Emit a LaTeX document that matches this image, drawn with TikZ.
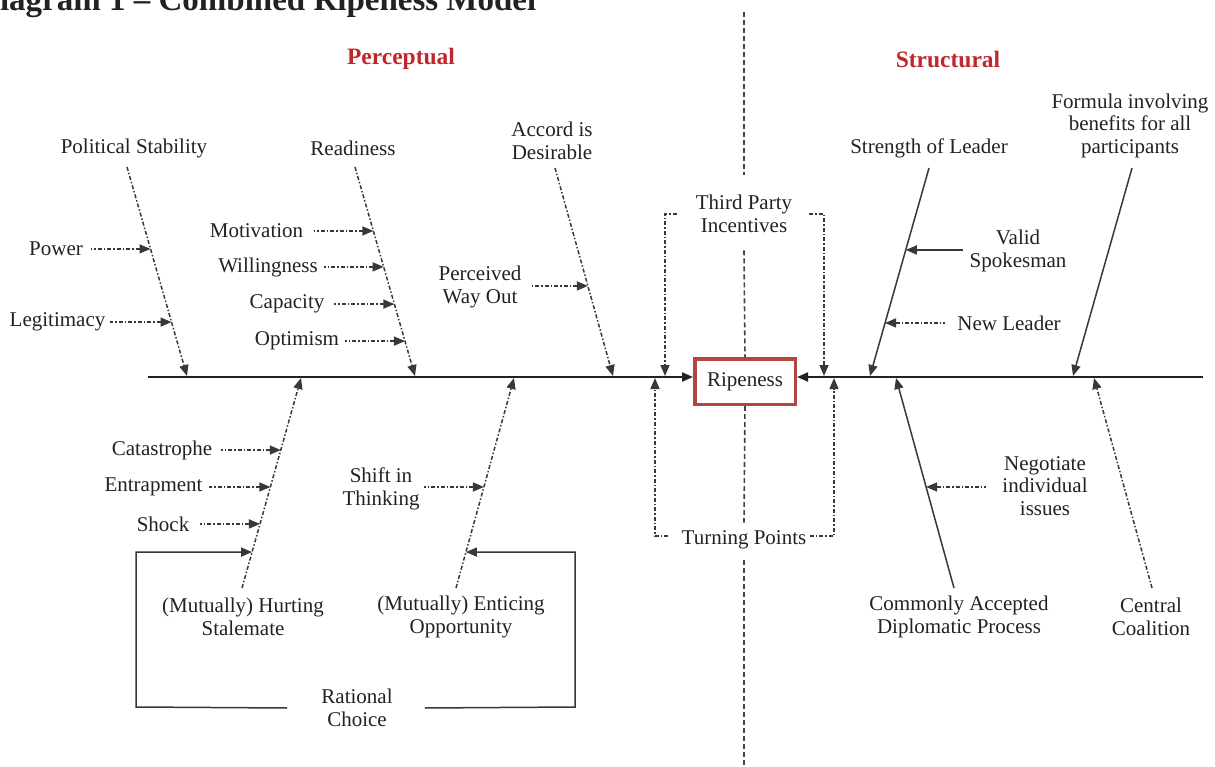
\documentclass[tikz,border=0pt]{standalone}
\usepackage{fontspec}
\setmainfont{Liberation Serif}
\usetikzlibrary{arrows.meta,calc}
\definecolor{hdred}{HTML}{C0272D}
\definecolor{boxred}{HTML}{B5453F}
\definecolor{ink}{HTML}{222222}
\begin{document}
\begin{tikzpicture}[x=1pt,y=-1pt,
  txt/.style={font=\fontsize{21}{22.5}\selectfont, align=center, text=ink, inner sep=1pt},
  hdr/.style={font=\bfseries\fontsize{23.5}{26}\selectfont, text=hdred, inner sep=1pt},
  bone/.style={draw=ink!90, line width=1.5pt},
  dd/.style={dash pattern=on 4pt off 2pt on 1.5pt off 2pt},
  cdash/.style={draw=ink!85, line width=1.6pt, dash pattern=on 5pt off 3pt},
  tipend/.style={-{Triangle[length=11pt,width=9pt]}},
  tipstart/.style={{Triangle[length=11pt,width=9pt]}-},
  spine/.style={draw=ink, line width=2pt},
]
\useasboundingbox (0,0) rectangle (1215,767);
\fill[white] (0,0) rectangle (1215,767);

% title and headers
\node[anchor=base west, font=\bfseries\fontsize{33}{35}\selectfont, text=ink, inner sep=0pt] (title) at (-24,11) {Diagram 1 \textendash{} Combined Ripeness Model};
\node[hdr] (perc) at (401,59) {Perceptual};
\node[hdr] (stru) at (948,59) {Structural};

% central box and spine
\node[txt, draw=boxred, line width=3.5pt, fill=white, minimum width=100.5pt, minimum height=45.5pt] (rip) at (745,381.5) {Ripeness};
\coordinate (spL) at (148,377);
\coordinate (spR) at (1203,377);
\draw[spine, tipend] (spL) -- (spL -| rip.west);
\draw[spine, tipend] (spR) -- (spR -| rip.east);

% central labels and vertical divider
\node[txt] (tpi) at (744,214) {Third Party\\Incentives};
\node[txt] (tp) at (744,540) {Turning Points};
\coordinate (cT) at (744,12);
\coordinate (cB) at (744,767);
\draw[cdash] (cT) -- ([yshift=19.5pt]tpi.north);
\draw[cdash] ([yshift=-16.5pt]tpi.south) -- (rip.north);
\draw[cdash] (rip.south) -- ([yshift=7pt]tp.north);
\draw[cdash] ([yshift=-10pt]tp.south) -- (cB);

% third party brackets
\draw[bone, dd, tipend] ([xshift=-18pt]tpi.west) -- (665,214) -- (665,376);
\draw[bone, dd, tipend] ([xshift=16pt]tpi.east) -- (824,214) -- (824,376);
% turning points brackets
\draw[bone, dd, tipend] ([xshift=-12pt,yshift=4pt]tp.west) -- (655,536) -- (655,378);
\draw[bone, dd, tipend] ([xshift=2pt,yshift=4pt]tp.east) -- (834,536) -- (834,378);

% ---------- Perceptual, upper bones ----------
\node[txt] (ps) at (134,148) {Political Stability};
\node[txt] (rd) at (353,148) {Readiness};
\node[txt] (acc) at (552,141) {Accord is\\Desirable};
\coordinate (psT) at (127,167); \coordinate (psB) at (187,376);
\coordinate (rdT) at (355,167); \coordinate (rdB) at (415,376);
\coordinate (acT) at (555,168); \coordinate (acB) at (613,376);
\draw[bone, dd, tipend] (psT) -- (psB);
\draw[bone, dd, tipend] (rdT) -- (rdB);
\draw[bone, dd, tipend] (acT) -- (acB);

\node[txt] (pow) at (56,249) {Power};
\node[txt] (leg) at (57.5,322) {Legitimacy};
\coordinate (powP) at ($(psT)!0.392!(psB)$);
\coordinate (legP) at ($(psT)!0.742!(psB)$);
\draw[bone, dd, tipstart] (powP) -- ++(-60,0);
\draw[bone, dd, tipstart] (legP) -- ++(-62,0);

\node[txt] (mot) at (256.5,231) {Motivation};
\node[txt] (wil) at (268,267) {Willingness};
\node[txt] (cap) at (287,304) {Capacity};
\node[txt] (opt) at (297,341) {Optimism};
\coordinate (motP) at ($(rdT)!0.306!(rdB)$);
\coordinate (wilP) at ($(rdT)!0.478!(rdB)$);
\coordinate (capP) at ($(rdT)!0.656!(rdB)$);
\coordinate (optP) at ($(rdT)!0.833!(rdB)$);
\draw[bone, dd, tipstart] (motP) -- ++(-59,0);
\draw[bone, dd, tipstart] (wilP) -- ++(-60,0);
\draw[bone, dd, tipstart] (capP) -- ++(-60,0);
\draw[bone, dd, tipstart] (optP) -- ++(-60,0);

\node[txt] (pwo) at (480,287) {Perceived\\Way Out};
\coordinate (pwoP) at ($(acT)!0.567!(acB)$);
\draw[bone, dd, tipstart] (pwoP) -- ++(-58,0);

% ---------- Perceptual, lower bones ----------
\node[txt] (hs) at (243,617) {(Mutually) Hurting\\Stalemate};
\node[txt] (eo) at (461,617) {(Mutually) Enticing\\Opportunity};
\coordinate (hsS) at (242,588); \coordinate (hsE) at (301,378);
\coordinate (eoS) at (456,588); \coordinate (eoE) at (514,378);
\draw[bone, dd, tipend] (hsS) -- (hsE);
\draw[bone, dd, tipend] (eoS) -- (eoE);

\node[txt] (cat) at (162,450) {Catastrophe};
\node[txt] (ent) at (153.5,487) {Entrapment};
\node[txt] (sho) at (163,524) {Shock};
\coordinate (catP) at ($(hsS)!0.657!(hsE)$);
\coordinate (entP) at ($(hsS)!0.481!(hsE)$);
\coordinate (shoP) at ($(hsS)!0.305!(hsE)$);
\coordinate (hsR) at ($(hsS)!0.171!(hsE)$);
\draw[bone, dd, tipstart] (catP) -- ++(-60,0);
\draw[bone, dd, tipstart] (entP) -- ++(-61,0);
\draw[bone, dd, tipstart] (shoP) -- ++(-60,0);

\node[txt] (sit) at (381,489) {Shift in\\Thinking};
\coordinate (sitP) at ($(eoS)!0.481!(eoE)$);
\coordinate (eoR) at ($(eoS)!0.171!(eoE)$);
\draw[bone, dd, tipstart] (sitP) -- ++(-60,0);

\node[txt] (rc) at (357,708) {Rational\\Choice};
\draw[bone, tipend] ([xshift=-33pt]rc.west) -- (136,707) -- (136,552) -- (hsR);
\draw[bone, tipend] ([xshift=31pt]rc.east) -- (575,707) -- (575,552) -- (eoR);

% ---------- Structural ----------
\node[txt] (sl) at (929,148) {Strength of Leader};
\node[txt] (fi) at (1130,125.5) {Formula involving\\benefits for all\\participants};
\coordinate (slT) at (929,168); \coordinate (slB) at (870,376);
\coordinate (fiT) at (1132,168); \coordinate (fiB) at (1073,376);
\draw[bone, tipend] (slT) -- (slB);
\draw[bone, tipend] (fiT) -- (fiB);

\node[txt] (vs) at (1018,251) {Valid\\Spokesman};
\node[txt] (nl) at (1009,323) {New Leader};
\coordinate (vsP) at ($(slT)!0.394!(slB)$);
\coordinate (nlP) at ($(slT)!0.745!(slB)$);
\draw[bone, tipstart] (vsP) -- ++(57,0);
\draw[bone, dd, tipstart] (nlP) -- ++(60,0);

\node[txt] (cad) at (959,617) {Commonly Accepted\\Diplomatic Process};
\node[txt] (cc) at (1151,617) {Central\\Coalition};
\coordinate (cadS) at (954,588); \coordinate (cadE) at (896,378);
\coordinate (ccS) at (1152,588); \coordinate (ccE) at (1094,378);
\draw[bone, tipend] (cadS) -- (cadE);
\draw[bone, dd, tipend] (ccS) -- (ccE);

\node[txt] (nii) at (1045,486) {Negotiate\\individual\\issues};
\coordinate (niiP) at ($(cadS)!0.481!(cadE)$);
\draw[bone, dd, tipstart] (niiP) -- ++(60,0);
\end{tikzpicture}
\end{document}
